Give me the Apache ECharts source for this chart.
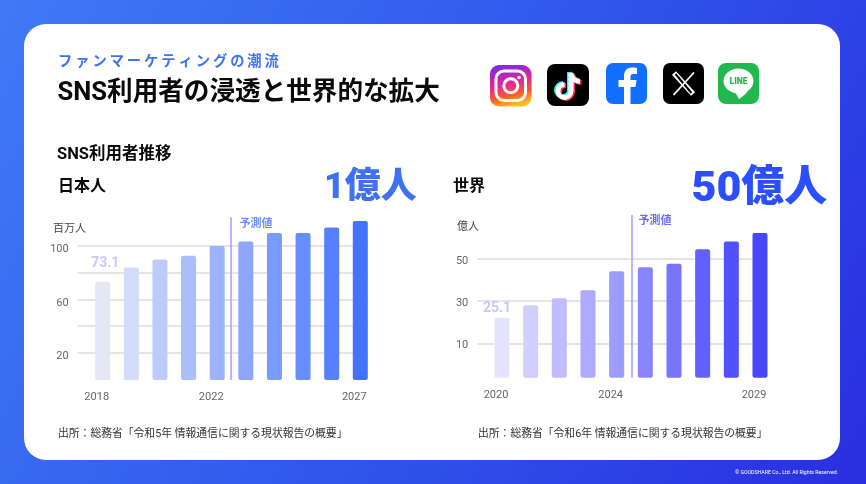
<!DOCTYPE html>
<html><head><meta charset="utf-8">
<style>html,body{margin:0;padding:0;background:#3a6af0}#c{width:866px;height:484px}</style>
<script src="https://cdn.jsdelivr.net/npm/echarts@6/dist/echarts.min.js"></script>
</head><body><div id="c"></div>
<script>
const jpYears = [2018,2019,2020,2021,2022,2023,2024,2025,2026,2027];
const jpValues = [73.1,83.7,89.7,92.4,99.6,103,109.3,109.3,113.5,118.2];
const jpColors = ['#e3e7f6','#d3dcfa','#bdcbfa','#abbffb','#9bb3fb','#8ca6fc','#789bff','#668eff','#5580ff','#4272ff'];
const jpGridTicks = [20,40,60,80,100];
const jpTickLabels = [100,60,20];
const jpYearLabels = [2018,2022,2027];
const wYears = [2020,2021,2022,2023,2024,2025,2026,2027,2028,2029];
const wValues = [25.1,30.3,33.2,36.6,44.5,46.2,47.6,53.7,56.9,60.5];
const wColors = ['#e5e3ff','#d0cfff','#c0bdff','#aeaaff','#9e9bff','#8885ff','#7874ff','#6460ff','#5350ff','#4a45ff'];
const wTicks = [10,30,50];
const wYearLabels = [2020,2024,2029];

const FONT = 'Roboto,"Noto Sans CJK JP","Noto Sans",sans-serif';
const chart = echarts.init(document.getElementById('c'));
function T(text,x,y,size,color,weight,align,z){
  return {type:'text',x,y,z:z||10,style:{text,fontSize:size,fill:color,fontWeight:weight||'normal',fontFamily:FONT,align:align||'left',verticalAlign:'middle'}};
}
function rr(x,y,s,r,fill){return {type:'rect',z:5,shape:{x,y,width:s,height:s,r},style:{fill}};}
let pathId=0;
function P(x,y,d,style){
  const name='iconPath'+(pathId++);
  echarts.graphic.registerShape(name,echarts.graphic.extendPath(d,{}));
  return {type:name,x,y,z:6,style:Object.assign({fill:'none',lineCap:'butt'},style)};
}

const igGrad = new echarts.graphic.LinearGradient(0.25,0,0.5,1,[
 {offset:0,color:'#7a2be0'},{offset:0.45,color:'#e3249c'},{offset:0.75,color:'#ff5a2a'},{offset:1,color:'#ffc11a'}]);
const note='M24 9 V27 A6.5 6.5 0 1 1 17.5 20.5 M24 9 C24.5 14 28 17 33 17.5';
const graphics = [
 {type:'rect',z:-20,shape:{x:0,y:0,width:866,height:484},style:{fill:new echarts.graphic.LinearGradient(0,0,1,1,[
   {offset:0,color:'#4079f6'},{offset:0.5,color:'#3059ec'},{offset:1,color:'#2a2ee0'}])}},
 {type:'rect',z:-10,shape:{x:24,y:24,width:816,height:436,r:22},style:{fill:'#fff'}},
 T('フ\u2009ァ\u2009ン\u2009マ\u2009ー\u2009ケ\u2009テ\u2009ィ\u2009ン\u2009グ\u2009の\u2009潮\u2009流',58,62.5,14.3,'#3f72f5','700'),
 T('SNS利用者の浸透と世界的な拡大',57.5,94,25.6,'#0a0a0a','700'),
 T('SNS利用者推移',57,155,16.5,'#0a0a0a','700'),
 T('日本人',58,187,16,'#0a0a0a','700'),
 T('世界',453,187,16,'#0a0a0a','700'),
 T('1億人',324,189,36,'#3f70f5','900'),
 T('50億人',691.5,190,43,'#2b4fff','900'),
 T('百万人',53,229,11,'#444','400'),
 T('億人',457,227,11,'#444','400'),
 T('予測値',256,224.5,11,'#6f8fff','700','center'),
 T('予測値',655,221.5,11,'#6c6cff','700','center'),
 T('出所：総務省「令和5年 情報通信に関する現状報告の概要」',58,434.5,10.8,'#333','400'),
 T('出所：総務省「令和6年 情報通信に関する現状報告の概要」',478,434.5,10.8,'#333','400'),
 T('© GOODSHARE Co., Ltd. All Rights Reserved.',838,473,5.2,'#fff','400','right'),
 // Instagram
 rr(490,65,41.5,9,igGrad),
 {type:'rect',z:6,shape:{x:496,y:71,width:29.5,height:29.5,r:8},style:{fill:'none',stroke:'#fff',lineWidth:3}},
 {type:'circle',z:6,shape:{cx:510.8,cy:85.8,r:7},style:{fill:'none',stroke:'#fff',lineWidth:3}},
 {type:'circle',z:6,shape:{cx:519,cy:77.5,r:1.8},style:{fill:'#fff'}},
 // TikTok
 rr(547,64,42,8,'#000'),
 P(545.5,63,note,{stroke:'#25f4ee',lineWidth:5}),
 P(548.5,65,note,{stroke:'#fe2c55',lineWidth:5}),
 P(547,64,note,{stroke:'#fff',lineWidth:5}),
 // Facebook
 rr(606,63,41,7,'#0f6fff'),
 P(606,63,'M18 41 V24 H12.5 V17 H18 V13 C18 7 21.5 4.5 26.5 4.5 C28.5 4.5 30 4.7 31 5 V11 H27.5 C25 11 24.5 12.3 24.5 14 V17 H30.5 L29.5 24 H24.5 V41 Z',{fill:'#fff'}),
 // X
 rr(663,63,41,7,'#000'),
 P(663,63,'M11 10 L30 31',{stroke:'#fff',lineWidth:5.5}),
 P(663,63,'M12.5 11 L28.5 30',{stroke:'#000',lineWidth:2}),
 P(663,63,'M31 9.5 L10.5 32',{stroke:'#fff',lineWidth:1.8}),
 // LINE
 rr(718,63,41,8,'#21b84d'),
 {type:'ellipse',z:6,shape:{cx:738.5,cy:81,rx:15,ry:12.5},style:{fill:'#fff'}},
 P(718,63,'M17 29 L21 36 C25 33 28 31 30 28 Z',{fill:'#fff'}),
 T('LINE',738.5,82,8.5,'#21b84d','900','center',7),
];

function xAxis(gi,yrs,labels,min,max){
 return {gridIndex:gi,type:'value',min,max,
  axisLine:{show:false},axisTick:{show:false},splitLine:{show:false},
  axisLabel:{customValues:labels,margin:12,color:'#666',fontSize:11,fontFamily:FONT,padding:[0,12,0,0],formatter:v=>String(v),hideOverlap:false}};
}
function barData(years,values,colors){
 return years.map((y,i)=>({value:[y,values[i]],itemStyle:{color:colors[i]}}));
}
function barSeries(xi,yi,years,values,colors,labelColor,labelDist,labelOff,lineX,lineMax,lineColor,lineBottom){
 const d=barData(years,values,colors);
 d[0].label={show:true,position:'top',distance:labelDist,offset:labelOff,color:labelColor,fontSize:14,fontWeight:700,fontFamily:FONT,formatter:p=>p.value[1].toFixed(1)};
 return {type:'bar',xAxisIndex:xi,yAxisIndex:yi,barWidth:15,silent:true,data:d,
  itemStyle:{borderRadius:2},
  markLine:{silent:true,symbol:'none',animation:false,label:{show:false},lineStyle:{color:lineColor,width:1.5,type:'solid'},
   data:[[{coord:[lineX,lineBottom]},{coord:[lineX,lineMax]}]]}};
}
const grid1={left:77.7,top:217.3,width:290.3,height:162.7};
const grid2={left:477.3,top:215,width:290.4,height:162.7};
const gridLine={show:true,showMinLine:true,showMaxLine:true,lineStyle:{color:'#dcdcdc',width:1.5}};
function yLabels(values,pad){
 return {margin:9,customValues:values,formatter:v=>'{a|'+v+'}',
  rich:{a:{color:'#666',fontSize:11,fontFamily:FONT,padding:[pad,0,0,0]}}};
}
const jpMin=2018-25/28.6, jpMax=2027+7.7/28.6;
const wMin=2020-24.7/28.67, wMax=2029+7.7/28.67;

chart.setOption({
 animation:false,
 graphic:{elements:graphics},
 grid:[Object.assign({containLabel:false},grid1),Object.assign({containLabel:false},grid2)],
 xAxis:[xAxis(0,jpYears,jpYearLabels,jpMin,jpMax),xAxis(1,wYears,wYearLabels,wMin,wMax)],
 yAxis:[
  {gridIndex:0,type:'value',min:0,max:121,axisLine:{show:false},axisTick:{show:false,customValues:jpGridTicks},splitLine:gridLine,
   axisLabel:yLabels(jpTickLabels,7)},
  {gridIndex:1,type:'value',min:0,max:68,show:false,splitLine:{show:false}},
  {gridIndex:1,type:'value',min:-6.31,max:70.89,position:'left',axisLine:{show:false},
   axisTick:{show:false,customValues:wTicks},splitLine:Object.assign({},gridLine),
   axisLabel:yLabels(wTicks,4)}
 ],
 series:[
  barSeries(0,0,jpYears,jpValues,jpColors,'#c6c8ff',11,[2.5,0],2022.486,121,'#a59dfc',0),
  barSeries(1,1,wYears,wValues,wColors,'#c6c6ff',2,[-5,0],2024.53,68,'#a0a0ff',0)
 ]
});
</script></body></html>
